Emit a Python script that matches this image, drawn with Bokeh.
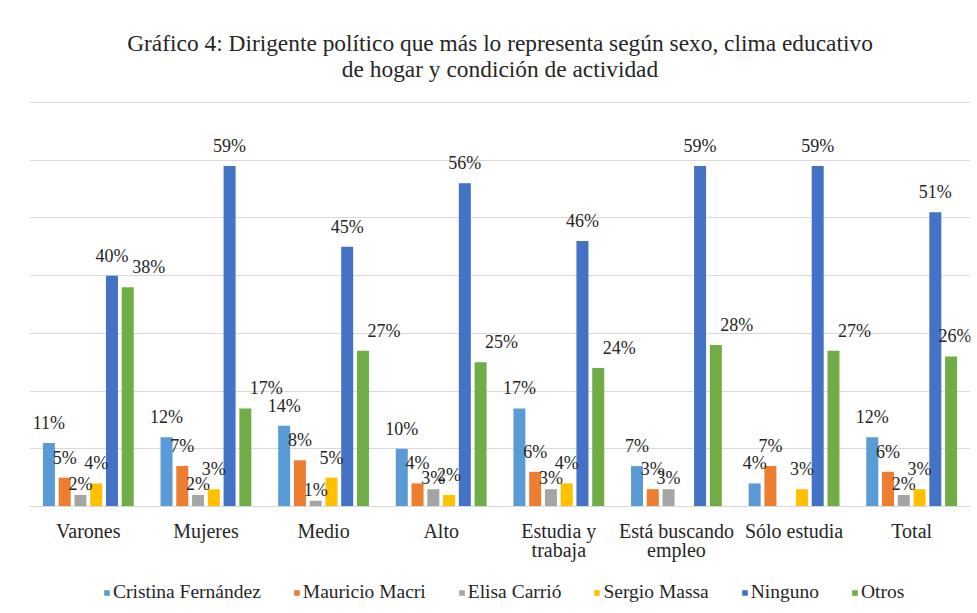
from bokeh.plotting import figure
from bokeh.models import (ColumnDataSource, FactorRange, Range1d, LabelSet, Legend,
                          LegendItem, FixedTicker, CategoricalAxis, Label)
from bokeh.transform import dodge
from bokeh.embed import file_html
from bokeh.resources import INLINE

# ---------------- data ----------------
categories = ["Varones", "Mujeres", "Medio", "Alto", "Estudia y", "Está buscando",
              "Sólo estudia", "Total"]
categories_line2 = [" ", "  ", "   ", "    ", "trabaja", "empleo", "     ", "      "]
series_names = ["Cristina Fernández", "Mauricio Macri", "Elisa Carrió",
                "Sergio Massa", "Ninguno", "Otros"]
cristina = [11, 12, 14, 10, 17, 7, 4, 12]
macri = [5, 7, 8, 4, 6, 3, 7, 6]
carrio = [2, 2, 1, 3, 3, 3, 0, 2]
massa = [4, 3, 5, 2, 4, 0, 3, 3]
ninguno = [40, 59, 45, 56, 46, 59, 59, 51]
otros = [38, 17, 27, 25, 24, 28, 27, 26]
y_ticks = [0, 10, 20, 30, 40, 50, 60, 70]
title_lines = ["Gráfico 4: Dirigente político que más lo representa según sexo, clima educativo",
               "de hogar y condición de actividad"]

values = [cristina, macri, carrio, massa, ninguno, otros]
colors = ["#5B9BD5", "#ED7D31", "#A5A5A5", "#FFC000", "#4472C4", "#70AD47"]
label_dy = [14, 14, 5, 14, 14, 14]
label_dx = [0, 0, 0, 0, 0, 21]

FONT = "Liberation Serif"
TXT = "#262626"

# The frame spans the whole canvas (annotations are clipped to it); the value
# axis runs 0-70 % over the middle part, with title above and labels/legend below.
PX_PER_PCT = 404 / 70.0
Y0 = -103 / PX_PER_PCT
Y1 = 70 + 102 / PX_PER_PCT

p = figure(width=975, height=611, x_range=FactorRange(*categories),
           y_range=Range1d(Y0, Y1), output_backend="svg", toolbar_location=None,
           min_border_left=29, min_border_right=5, min_border_top=0,
           min_border_bottom=2)
p.extra_x_ranges = {"l2": FactorRange(*categories_line2)}

p.outline_line_color = None
p.background_fill_color = "white"
p.border_fill_color = "white"

n_cat = len(categories)
title_y = [70 + (102 - 42) / PX_PER_PCT, 70 + (102 - 68) / PX_PER_PCT]
for txt, ty in zip(title_lines, title_y):
    p.add_layout(Label(x=n_cat / 2, y=ty, text=txt, text_align="center",
                       text_baseline="middle", text_font=FONT,
                       text_font_size="23.4px", text_color=TXT))

p.yaxis.visible = False
p.xgrid.grid_line_color = None
p.ygrid.ticker = FixedTicker(ticks=y_ticks)
p.ygrid.grid_line_color = "#d9d9d9"
p.ygrid.grid_line_width = 1

p.xaxis.fixed_location = 0
p.xaxis.axis_line_color = "#d9d9d9"
p.xaxis.major_tick_line_color = None
p.xaxis.minor_tick_line_color = None
p.xaxis.major_label_text_font = FONT
p.xaxis.major_label_text_font_size = "20px"
p.xaxis.major_label_text_color = TXT
p.xaxis.major_label_standoff = 7

ax2 = CategoricalAxis(x_range_name="l2", fixed_location=0, axis_line_color=None,
                      major_tick_line_color=None, minor_tick_line_color=None,
                      major_label_text_font=FONT, major_label_text_font_size="20px",
                      major_label_text_color=TXT, major_label_standoff=26)
p.add_layout(ax2, "below")

n = len(series_names)
step = 0.134
bar_w = 0.102
items = []
for i, (name, vals, col) in enumerate(zip(series_names, values, colors)):
    off = (i - (n - 1) / 2) * step
    src = ColumnDataSource(dict(cat=categories, v=vals))
    r = p.vbar(x=dodge("cat", off, range=p.x_range), top="v", width=bar_w,
               source=src, fill_color=col, line_color=None)
    items.append(LegendItem(label=name, renderers=[r]))
    keep = [k for k, v in enumerate(vals) if v > 0]
    # keep the last group's side-shifted labels inside the plot edge
    dxs = [label_dx[i] if k < n_cat - 1 else min(label_dx[i], 4) for k in keep]
    lsrc = ColumnDataSource(dict(cat=[categories[k] for k in keep],
                                 v=[vals[k] for k in keep],
                                 t=[f"{vals[k]}%" for k in keep],
                                 dx=dxs))
    labels = LabelSet(x=dodge("cat", off, range=p.x_range), y="v", text="t",
                      source=lsrc, text_align="center", text_baseline="alphabetic",
                      x_offset="dx", y_offset=label_dy[i], text_font=FONT,
                      text_font_size="18px", text_color=TXT)
    p.add_layout(labels)

legend = Legend(items=items, orientation="horizontal", location=(74, 6),
                label_text_font=FONT, label_text_font_size="19.5px",
                label_text_color=TXT, glyph_width=7, glyph_height=7,
                label_standoff=3, spacing=32, padding=0, margin=0,
                border_line_color=None, background_fill_alpha=0)
p.add_layout(legend, "center")

open("out.html", "w").write(file_html(p, INLINE))
